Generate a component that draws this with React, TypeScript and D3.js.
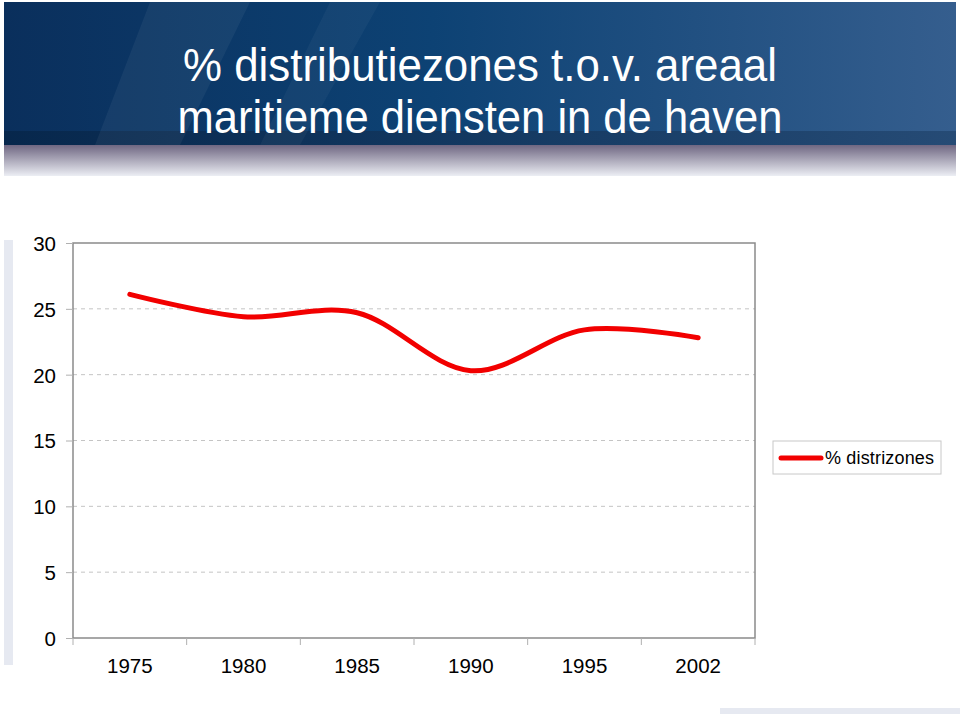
import React, { useEffect, useRef } from 'react'
import * as d3 from 'd3'

const years = ['1975', '1980', '1985', '1990', '1995', '2002']
const distrizones = [26.1, 24.4, 24.7, 20.3, 23.4, 22.8]
const yTicks = [0, 5, 10, 15, 20, 25, 30]
const seriesName = '% distrizones'
const titleLines = ['% distributiezones t.o.v. areaal', 'maritieme diensten in de haven']

export default function App() {
  const ref = useRef<SVGSVGElement>(null)

  useEffect(() => {
    const width = 960
    const height = 716
    const svg = d3.select(ref.current)
    svg.selectAll('*').remove()

    const defs = svg.append('defs')
    const banner = defs.append('linearGradient').attr('id', 'banner')
    banner.append('stop').attr('offset', '0%').attr('stop-color', '#0a2f5c')
    banner.append('stop').attr('offset', '45%').attr('stop-color', '#0d4274')
    banner.append('stop').attr('offset', '100%').attr('stop-color', '#355e8e')

    const fade = defs.append('linearGradient').attr('id', 'fade')
      .attr('x1', 0).attr('y1', 0).attr('x2', 0).attr('y2', 1)
    fade.append('stop').attr('offset', '0%').attr('stop-color', '#6f6782')
    fade.append('stop').attr('offset', '100%').attr('stop-color', '#eceef4')

    const darkBand = defs.append('linearGradient').attr('id', 'darkBand')
    darkBand.append('stop').attr('offset', '0%').attr('stop-color', '#062548')
    darkBand.append('stop').attr('offset', '100%').attr('stop-color', '#22466f')

    // background
    svg.append('rect').attr('width', width).attr('height', height).attr('fill', '#fff')
    svg.append('rect').attr('x', 4).attr('y', 240).attr('width', 9).attr('height', 425)
      .attr('fill', '#e6e9f1')
    svg.append('rect').attr('x', 720).attr('y', 708).attr('width', 240).attr('height', 6)
      .attr('fill', '#e6e9f1')

    // header banner
    svg.append('rect').attr('x', 4).attr('y', 2).attr('width', 952).attr('height', 143)
      .attr('fill', 'url(#banner)')
    svg.append('rect').attr('x', 4).attr('y', 131).attr('width', 952).attr('height', 14)
      .attr('fill', 'url(#darkBand)').attr('opacity', 0.8)
    svg.append('path').attr('d', 'M150,2 L250,2 L180,145 L95,145 Z')
      .attr('fill', '#ffffff').attr('opacity', 0.05)
    svg.append('path').attr('d', 'M330,2 L380,2 L300,145 L260,145 Z')
      .attr('fill', '#ffffff').attr('opacity', 0.04)
    svg.append('rect').attr('x', 4).attr('y', 145).attr('width', 952).attr('height', 31)
      .attr('fill', 'url(#fade)')
    svg.append('rect').attr('x', 13).attr('y', 176).attr('width', 937).attr('height', 530)
      .attr('fill', '#fff')

    // title, slightly condensed like the original
    const titleWidths = [594, 605]
    svg.append('g').selectAll('text')
      .data(titleLines)
      .enter()
      .append('text')
      .attr('x', 480)
      .attr('y', (d, i) => 81 + i * 52)
      .attr('text-anchor', 'middle')
      .attr('fill', '#fff')
      .attr('textLength', (d, i) => titleWidths[i])
      .attr('lengthAdjust', 'spacingAndGlyphs')
      .style('font-family', '"Liberation Sans", Arial, sans-serif')
      .style('font-size', '46px')
      .text(d => d)

    // chart
    const left = 73, right = 755, top = 243, bottom = 638

    const x = d3.scaleBand().domain(years).range([left, right])
    const y = d3.scaleLinear().domain([0, 30]).range([bottom, top])

    const g = svg.append('g')

    g.selectAll('.grid')
      .data(yTicks.filter(d => d > 0 && d < 30))
      .enter()
      .append('line')
      .attr('x1', left).attr('x2', right)
      .attr('y1', d => y(d)).attr('y2', d => y(d))
      .attr('stroke', '#c4c4c4').attr('stroke-dasharray', '4,4')

    g.append('rect')
      .attr('x', left).attr('y', top)
      .attr('width', right - left).attr('height', bottom - top)
      .attr('fill', 'none').attr('stroke', '#8a8a8a').attr('stroke-width', 1.5)

    const yAxis = d3.axisLeft(y).tickValues(yTicks).tickSize(7).tickPadding(10)
    const yg = g.append('g').attr('transform', `translate(${left},0)`).call(yAxis)

    const xAxis = d3.axisBottom(x).tickSize(0).tickPadding(20)
    const xg = g.append('g').attr('transform', `translate(0,${bottom})`).call(xAxis)

    ;[yg, xg].forEach(a => {
      a.select('.domain').remove()
      a.selectAll('line').attr('stroke', '#b0b0b0')
      a.selectAll('text')
        .attr('fill', '#000')
        .style('font-family', '"Liberation Sans", Arial, sans-serif')
        .style('font-size', '20.5px')
    })
    yg.selectAll('text').attr('dy', '0.36em')

    // x group tick marks at band edges
    g.selectAll('.xtick')
      .data(years.map(d => x(d) as number).concat([right]))
      .enter()
      .append('line')
      .attr('x1', d => d).attr('x2', d => d)
      .attr('y1', bottom).attr('y2', bottom + 7)
      .attr('stroke', '#b0b0b0')

    const line = d3.line<number>()
      .x((d, i) => (x(years[i]) as number) + x.bandwidth() / 2)
      .y(d => y(d))
      .curve(d3.curveCardinal.tension(0))

    g.append('path')
      .datum(distrizones)
      .attr('d', line)
      .attr('fill', 'none')
      .attr('stroke', '#f20000')
      .attr('stroke-width', 5)
      .attr('stroke-linecap', 'round')
      .attr('stroke-linejoin', 'round')

    // legend
    const lg = svg.append('g').attr('transform', 'translate(773,441)')
    lg.append('rect').attr('width', 168).attr('height', 33)
      .attr('fill', '#fff').attr('stroke', '#c8c8c8')
    lg.append('line').attr('x1', 8).attr('x2', 48).attr('y1', 17).attr('y2', 17)
      .attr('stroke', '#f20000').attr('stroke-width', 5).attr('stroke-linecap', 'round')
    lg.append('text').attr('x', 52).attr('y', 23)
      .attr('textLength', 109)
      .attr('lengthAdjust', 'spacing')
      .style('font-family', '"Liberation Sans", Arial, sans-serif')
      .style('font-size', '18px')
      .text(seriesName)
  }, [])

  return (
    <svg ref={ref} width={960} height={716} style={{ position: 'absolute', left: 0, top: 0 }} />
  )
}
